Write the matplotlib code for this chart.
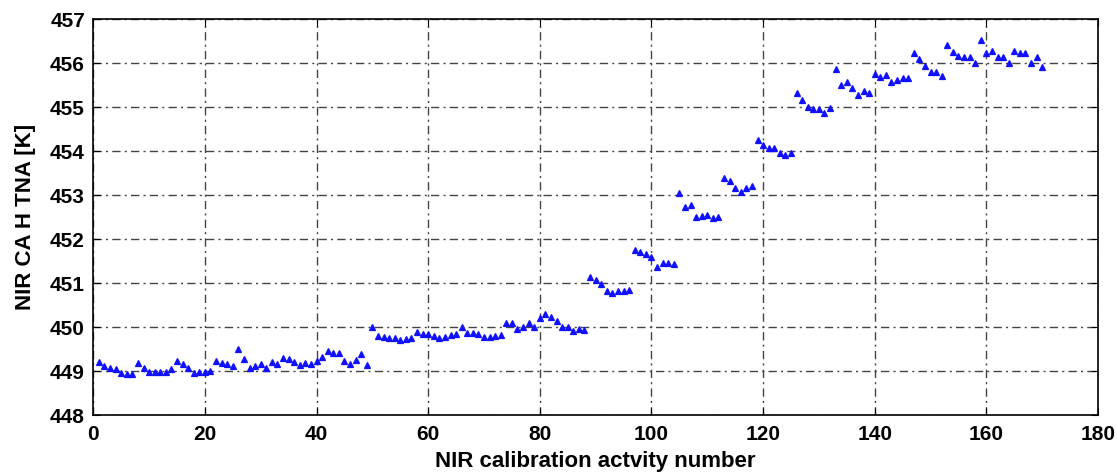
import matplotlib
matplotlib.use("Agg")
import matplotlib.pyplot as plt

activity = list(range(1, 171))
tna = [
    449.20, 449.11, 449.08, 449.04, 448.95, 448.94, 448.94, 449.19, 449.06, 448.99,
    448.98, 448.98, 448.97, 449.04, 449.23, 449.17, 449.08, 448.96, 448.98, 448.98,
    449.00, 449.23, 449.18, 449.17, 449.11, 449.50, 449.27, 449.06, 449.11, 449.15,
    449.08, 449.20, 449.17, 449.30, 449.27, 449.21, 449.14, 449.19, 449.16, 449.22,
    449.33, 449.46, 449.40, 449.40, 449.23, 449.17, 449.26, 449.38, 449.14, 450.00,
    449.80, 449.78, 449.75, 449.75, 449.70, 449.73, 449.76, 449.88, 449.85, 449.85,
    449.80, 449.75, 449.78, 449.82, 449.85, 450.00, 449.87, 449.86, 449.84, 449.77,
    449.77, 449.80, 449.82, 450.10, 450.10, 449.95, 450.00, 450.10, 450.00, 450.20,
    450.30, 450.22, 450.13, 450.00, 450.00, 449.90, 449.95, 449.93, 451.13, 451.06,
    450.98, 450.83, 450.78, 450.83, 450.83, 450.85, 451.75, 451.71, 451.66, 451.60,
    451.37, 451.46, 451.46, 451.43, 453.05, 452.72, 452.77, 452.50, 452.52, 452.55,
    452.48, 452.50, 453.38, 453.33, 453.15, 453.08, 453.15, 453.20, 454.25, 454.14,
    454.07, 454.07, 453.96, 453.91, 453.96, 455.32, 455.15, 455.00, 454.95, 454.95,
    454.87, 454.97, 455.86, 455.51, 455.56, 455.43, 455.28, 455.36, 455.33, 455.75,
    455.69, 455.73, 455.58, 455.61, 455.67, 455.67, 456.23, 456.10, 455.93, 455.80,
    455.80, 455.70, 456.40, 456.25, 456.17, 456.14, 456.14, 456.00, 456.53, 456.22,
    456.28, 456.14, 456.14, 456.00, 456.28, 456.22, 456.22, 456.00, 456.14, 455.90,
]
xticks = [0, 20, 40, 60, 80, 100, 120, 140, 160, 180]
yticks = [448, 449, 450, 451, 452, 453, 454, 455, 456, 457]

plt.rcParams['font.family'] = ['Liberation Sans', 'DejaVu Sans']

fig = plt.figure(figsize=(11.17, 4.76), dpi=100)
ax = fig.add_axes([0.0835, 0.128, 0.8995, 0.832])

ax.plot(activity, tna, linestyle='none', marker='^', markersize=4,
        color='#1010ff', markeredgewidth=0.9)

ax.set_xlim(0, 180)
ax.set_ylim(448, 457)
ax.set_xticks(xticks)
ax.set_yticks(yticks)
ax.tick_params(direction='in', labelsize=15, length=5, width=0.8, top=True, right=True)
ax.tick_params(axis='x', pad=7)
ax.tick_params(axis='y', pad=6)
for lab in ax.get_xticklabels() + ax.get_yticklabels():
    lab.set_fontweight('bold')
ax.grid(True, color='#444444', linestyle=(0, (6, 3, 1.5, 3)), linewidth=1.0)
for s in ax.spines.values():
    s.set_linewidth(1.2)
    s.set_color('black')

ax.set_xlabel('NIR calibration actvity number', fontsize=16, fontweight='bold', labelpad=5)
ax.set_ylabel('NIR CA H TNA [K]', fontsize=16, fontweight='bold', labelpad=10)

fig.savefig('out.png', dpi=100)
